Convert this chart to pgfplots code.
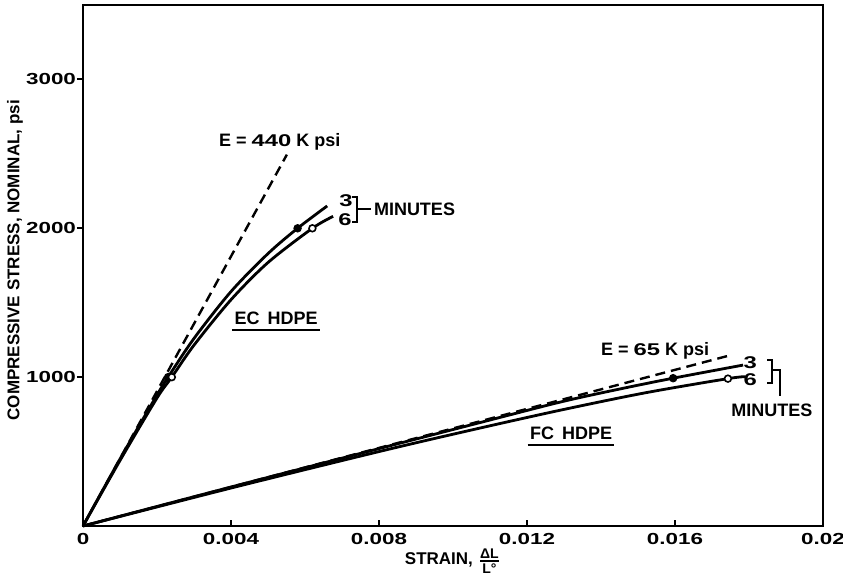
\documentclass[border=0pt]{standalone}
\usepackage{fontspec}
\setmainfont{Liberation Sans}
\newfontfamily\tickfont[FakeStretch=1.4]{Liberation Sans}
\usepackage{pgfplots}
\pgfplotsset{compat=1.18}
\newcommand{\annfont}{\bfseries\fontsize{9}{10}\selectfont}
\newcommand{\numfont}{\tickfont\bfseries\fontsize{8.5}{10}\selectfont}
\begin{document}
\begin{tikzpicture}
\begin{axis}[
  scale only axis, width=370pt, height=260.5pt,
  xmin=0, xmax=0.02, ymin=0, ymax=3500,
  axis line style={line width=1pt},
  scaled x ticks=false, scaled y ticks=false,
  xtick={0,0.004,0.008,0.012,0.016,0.02},
  xticklabels={0,0.004,0.008,0.012,0.016,0.02},
  ytick={1000,2000,3000}, yticklabels={1000,2000,3000},
  tick align=inside, xtick pos=left, ytick pos=left,
  major tick length=3pt,
  tick style={line width=1pt, black},
  ytick style={xshift=-3pt},
  /pgf/number format/assume math mode=true,
  tick label style={font=\tickfont\bfseries\fontsize{8}{9}\selectfont},
  label style={font=\bfseries\fontsize{8.5}{10}\selectfont},
  xlabel={STRAIN,\ ${\mbox{\fontsize{7}{7}\selectfont\bfseries ΔL}\above0.8pt\mbox{\fontsize{7}{7}\selectfont\bfseries L°}}$},
  ylabel={COMPRESSIVE STRESS, NOMINAL, psi},
  xlabel style={at={(axis description cs:0.5,-0.067)}, anchor=center},
  ylabel style={at={(axis description cs:-0.092,0.51)}, anchor=center},
  clip=false,
]
% EC HDPE, 3 minutes
\addplot[line width=1.4pt, smooth] coordinates {
 (0,0) (0.001,450) (0.002,880) (0.0023,1000) (0.003,1260) (0.004,1575)
 (0.005,1830) (0.0058,2000) (0.0066,2150)};
% EC HDPE, 6 minutes
\addplot[line width=1.4pt, smooth] coordinates {
 (0,0) (0.001,440) (0.002,860) (0.0024,1000) (0.003,1215) (0.004,1520)
 (0.005,1770) (0.0062,2000) (0.00676,2080)};
% E = 440 K psi
\addplot[line width=1.2pt, dash pattern=on 5pt off 3pt] coordinates {(0,0) (0.00551,2495)};
% FC HDPE, 3 minutes
\addplot[line width=1.4pt, smooth] coordinates {
 (0,0) (0.004,262) (0.008,520) (0.0105,680) (0.01289,832) (0.0145,920)
 (0.01595,993) (0.01784,1081)};
% FC HDPE, 6 minutes
\addplot[line width=1.4pt, smooth] coordinates {
 (0,0) (0.004,255) (0.008,500) (0.0105,645) (0.0129,778) (0.0152,895)
 (0.01743,990) (0.0179,1003)};
% E = 65 K psi
\addplot[line width=1.2pt, dash pattern=on 5pt off 3pt] coordinates {(0,0) (0.01754,1150)};
% points
\addplot[only marks, mark=*, mark size=1.9pt] coordinates {(0.0023,1000) (0.0058,2000) (0.01595,993)};
\addplot[only marks, mark=*, mark size=1.7pt, mark options={fill=white, line width=0.8pt}]
  coordinates {(0.0024,1000) (0.0062,2000) (0.01743,990)};

% annotations EC
\node[font=\annfont] at (axis cs:0.00532,2584) {E = {\numfont 440} K psi};
\node[font=\numfont] at (axis cs:0.00711,2188) {3};
\node[font=\numfont] at (axis cs:0.00708,2060) {6};
\draw[line width=1pt] (axis cs:0.00727,2208) -- (axis cs:0.00741,2208) -- (axis cs:0.00741,2040) -- (axis cs:0.00727,2040);
\draw[line width=1pt] (axis cs:0.00741,2128) -- (axis cs:0.00778,2128);
\node[font=\annfont, anchor=west, inner sep=1pt] at (axis cs:0.00780,2128) {MINUTES};
\node[font=\annfont, inner sep=1pt] (ec) at (axis cs:0.00522,1396) {EC\hspace{4pt}HDPE};
\draw[line width=1.2pt] ([yshift=-1.5pt]ec.south west) -- ([yshift=-1.5pt]ec.south east);

% annotations FC
\node[font=\annfont] at (axis cs:0.01546,1174) {E = {\numfont 65} K psi};
\node[font=\numfont] at (axis cs:0.01803,1094) {3};
\node[font=\numfont] at (axis cs:0.01803,980) {6};
\draw[line width=1pt] (axis cs:0.01849,1114) -- (axis cs:0.01862,1114) -- (axis cs:0.01862,960) -- (axis cs:0.01849,960);
\draw[line width=1pt] (axis cs:0.01862,1047) -- (axis cs:0.01884,1047) -- (axis cs:0.01884,872);
\node[font=\annfont] at (axis cs:0.01862,779) {MINUTES};
\node[font=\annfont, inner sep=1pt] (fc) at (axis cs:0.01319,624) {FC\hspace{4pt}HDPE};
\draw[line width=1.2pt] ([yshift=-1.5pt]fc.south west) -- ([yshift=-1.5pt]fc.south east);
\end{axis}
\pgfresetboundingbox
\path ([shift={(-41.5pt,-26pt)}]current axis.south west) rectangle ([shift={(10pt,2.5pt)}]current axis.north east);
\end{tikzpicture}
\end{document}
